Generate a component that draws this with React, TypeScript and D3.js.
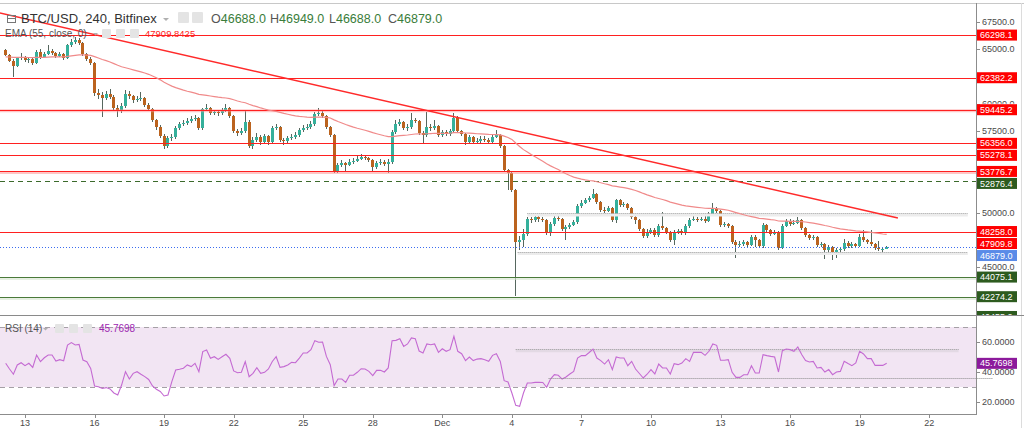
import React from 'react';
import * as d3 from 'd3';

// ---------- DATA ----------
const firstOpen = 64930;
const closes = [
  64470, 63920, 63460, 64190, 64290, 64010, 64100, 63740, 64750, 64290,
  64560, 64840, 64650, 64380, 64560, 64190, 65390, 65660, 65850, 65570,
  64560, 64100, 63740, 60980, 60800, 60520, 60890, 60610, 59600, 59420,
  59790, 60890, 60700, 60340, 60430, 60520, 59880, 59510, 58500, 57860,
  57030, 56110, 56850, 56940, 57770, 58130, 58220, 58410, 58590, 58680,
  57770, 59510, 59600, 59140, 59230, 59140, 59420, 59600, 58870, 57490,
  57310, 57490, 58320, 56110, 56660, 56940, 56480, 57030, 56480, 57770,
  57860, 56660, 56570, 56850, 56940, 57120, 57580, 57770, 57860, 58130,
  59050, 59140, 58870, 57860, 57120, 53820, 54370, 54550, 54370, 54640,
  54730, 54920, 55100, 55010, 54830, 54180, 54550, 54640, 54460, 54640,
  57400, 58130, 58320, 57770, 57860, 58500, 58410, 57310, 57120, 57860,
  57770, 57950, 57120, 57400, 57210, 57490, 58680, 57490, 57210, 56480,
  56940, 56480, 56570, 56760, 56660, 56480, 56940, 57120, 56110, 53910,
  53630, 52070, 47300, 47480, 48030, 49410, 49320, 49590, 49410, 49320,
  48120, 48950, 49500, 49410, 48490, 48670, 48860, 49130, 50600, 50880,
  51150, 51340, 51700, 50970, 50230, 50140, 50420, 49320, 51150, 50690,
  50790, 50420, 49590, 49320, 48490, 47850, 48220, 48400, 47940, 48770,
  48580, 48220, 47480, 48220, 48310, 48120, 48770, 49320, 49410, 49320,
  49410, 49230, 49870, 50330, 50140, 48860, 48950, 48770, 47300, 47020,
  47110, 47300, 47020, 47760, 47480, 46930, 48860, 48400, 48030, 48220,
  46750, 48770, 49230, 48950, 49040, 49320, 48580, 47940, 47660, 47760,
  47020, 47110, 46560, 46840, 46290, 46560, 46650, 47210, 46930, 47110,
  46930, 47760, 47480, 47300, 47110, 46750, 46650, 46688, 46879,
];
const highs = [
  65050, 64560, 64100, 64300, 64660, 64400, 64290, 64190, 64930, 65020,
  64740, 65390, 65020, 64750, 64750, 64650, 65480, 65940, 66120, 66030,
  65660, 64650, 64290, 63830, 61350, 61070, 61160, 61350, 60800, 59880,
  60060, 61250, 61160, 60800, 60700, 61070, 60610, 60060, 59600, 58590,
  58040, 57210, 57030, 57210, 57950, 58320, 58500, 58680, 58870, 58960,
  58780, 59600, 59970, 59690, 59420, 59420, 59600, 59970, 59690, 58960,
  57670, 57770, 59420, 58500, 56940, 57310, 57120, 57210, 57120, 57950,
  58130, 57950, 56850, 57030, 57210, 57400, 57770, 58040, 58130, 58410,
  59230, 59600, 59320, 58960, 57950, 57210, 54550, 54830, 54640, 54920,
  55010, 55190, 55380, 55280, 55100, 54920, 54730, 54920, 54830, 54920,
  57580, 58500, 58590, 58410, 58130, 59140, 58680, 58500, 57490, 59230,
  58130, 58500, 58040, 57580, 57580, 57670, 59140, 58870, 57580, 57310,
  57120, 57030, 56850, 57030, 57030, 56850, 57120, 57580, 57210, 56200,
  54000, 53730, 52160, 47850, 48490, 49590, 49590, 49780, 49870, 49590,
  49410, 49130, 49680, 49680, 49500, 48860, 49040, 49320, 50780, 51150,
  51340, 51520, 52160, 51800, 51060, 50510, 50600, 50510, 51240, 51240,
  50970, 50880, 50510, 49780, 49410, 48580, 48490, 48580, 48580, 48950,
  50050, 48680, 48310, 48400, 48490, 48490, 48950, 49500, 49680, 49590,
  49590, 49680, 50050, 50880, 50510, 50230, 49130, 49040, 48860, 47480,
  47390, 47480, 47390, 47940, 47940, 47580, 49040, 48950, 48490, 48400,
  48310, 48950, 49410, 49410, 49320, 49590, 49410, 48680, 48030, 47940,
  47850, 47300, 47210, 47020, 46930, 46750, 46840, 47570, 47390, 47300,
  47210, 48030, 48400, 47580, 48400, 47210, 47390, 46840, 46949,
];
const lows = [
  64380, 63830, 62450, 63370, 64010, 63830, 63740, 63550, 63650, 64100,
  64190, 64470, 64470, 64190, 64290, 64010, 64100, 65200, 65480, 65390,
  64380, 63920, 63550, 60700, 60430, 58780, 60340, 60430, 59420, 58780,
  59140, 59600, 60430, 60060, 60150, 60240, 59690, 59330, 58320, 57580,
  56850, 55840, 55930, 56570, 56760, 57580, 57950, 58040, 58220, 58410,
  57580, 57580, 59330, 58960, 58960, 58870, 58960, 59230, 58680, 57310,
  57030, 57120, 57310, 55930, 55840, 56480, 56200, 56300, 56200, 56390,
  57580, 56480, 56200, 56390, 56660, 56760, 56940, 57400, 57580, 57670,
  57950, 58870, 58680, 57670, 56940, 53630, 53630, 54180, 53720, 54270,
  54460, 54640, 54830, 54830, 54640, 53820, 54000, 54370, 54270, 53630,
  54460, 57210, 57950, 57580, 57490, 57680, 58220, 57120, 56390, 56940,
  57490, 57580, 56940, 56940, 57030, 57030, 57310, 57310, 57030, 56200,
  56300, 56300, 56300, 56390, 56480, 56300, 56390, 56850, 55930, 53720,
  52070, 51890, 42300, 46560, 46840, 47850, 49040, 49130, 49130, 49130,
  47940, 47850, 48770, 49230, 48310, 47480, 48490, 48770, 48950, 50420,
  50780, 50970, 51250, 50780, 50050, 49960, 50050, 49130, 49040, 50510,
  50510, 50230, 49410, 48950, 48310, 47660, 47660, 48030, 47760, 47760,
  48400, 48030, 47300, 47020, 48030, 47940, 47940, 48580, 49230, 49130,
  49230, 49040, 49130, 49680, 49960, 48680, 48680, 48580, 47110, 45830,
  46840, 46930, 46840, 46930, 46840, 46750, 46750, 48220, 47850, 47940,
  46560, 46650, 48680, 48770, 48860, 48950, 48400, 47760, 47480, 47480,
  46840, 46840, 45730, 46380, 45640, 45830, 46380, 46470, 46750, 46750,
  46750, 46840, 47300, 47110, 46930, 46560, 46470, 46380, 46688,
];
const rsiValues = [
  45.8, 42, 38.5, 44.7, 46.2, 44.2, 45.8, 43.1, 51.3, 46.9,
  49.5, 51.3, 51.3, 47.3, 48.2, 47.5, 58, 59.6, 58, 58.4,
  48, 46.9, 42.4, 30.7, 30.2, 29, 29.6, 28.7, 26, 24.7,
  31.3, 40.2, 35.3, 39.1, 40.2, 38.5, 36.9, 35, 30.7, 28.5,
  27, 24, 24.7, 33.6, 41.3, 41.8, 42.5, 44.7, 43.6, 45.8,
  40.2, 53.6, 54.7, 49.1, 50.2, 48.4, 50.2, 51.8, 49.1, 40.7,
  39.5, 39.8, 46.9, 36.9, 39.1, 42.9, 39.1, 39.8, 42, 47,
  50.2, 43.1, 43.6, 44.7, 46.4, 46.2, 49.3, 52.7, 52.7, 54.9,
  60.9, 59.8, 60, 50.4, 44.9, 30.9, 35.3, 35.3, 33.1, 37.8,
  37.8, 39.8, 42.2, 42, 40.4, 37.6, 41.1, 41.1, 40, 42.7,
  60.9, 61.1, 62.2, 57.1, 58.7, 62.7, 62.2, 54, 52.7, 58.7,
  58.2, 58.7, 53.1, 55.5, 53.8, 54.9, 63.8, 53.8, 52.2, 47.6,
  50, 47.6, 48.6, 48.9, 48.2, 47.1, 51.1, 52.2, 47, 34.2,
  33.3, 26, 17.8, 17.1, 26, 32.7, 32.7, 33.1, 33.1, 33,
  29.8, 35.3, 38.2, 37.8, 35.3, 36.7, 38.7, 40.4, 49.3, 50.9,
  50.9, 53, 55.3, 49.3, 47.6, 45.3, 48.2, 41.6, 50, 49.3,
  49.3, 44.2, 47.1, 42, 39, 36, 38.5, 41.6, 38.7, 45.3,
  42.7, 42.7, 38.7, 45.6, 44.9, 46, 48.9, 47.1, 53.1, 53.1,
  53.1, 51.1, 53.8, 58.7, 57.8, 47.8, 47.8, 48.2, 39.8, 36.4,
  36.4, 38.2, 38.2, 44.2, 39.3, 39.3, 51.6, 50.9, 50.4, 50,
  40, 54.2, 55.3, 54.9, 53.8, 56.7, 51.6, 47.6, 46.7, 47.1,
  42.7, 43.1, 40, 41.6, 38.2, 40, 40.4, 47.1, 45.6, 44.2,
  46, 53.8, 52, 48.9, 48.9, 44.4, 44.4, 44.4, 45.7698,
];
const emaSeed = 64300;
const emaLength = 55;

const tickLabels = ['13', '16', '19', '22', '25', '28', 'Dec', '4', '7', '10', '13', '16', '19', '22'];
const tickIndex = [5, 23, 41, 59, 77, 95, 113, 131, 149, 167, 185, 203, 221, 239];
const priceTicks = [45000, 47500, 50000, 52500, 55000, 57500, 60000, 62500, 65000, 67500];
const rsiTicks = [20, 40, 60];

const redLevels = [66298.1, 62382.2, 59445.2, 56356.0, 55278.1, 53776.7, 48258.0];
const glowLevels = [59445.2, 53776.7];
const greenLevels = [44075.1, 42274.2, 40455.2];
const dashedGreenLevel = 52876.4;
const emaLast = 47909.8425;
const lastPrice = 46879.0;
const rsiLast = 45.7698;

const trendIdx = [-1.5, 230.9];
const trendPrice = [68330, 49500];
const channelUpperIdx = [135, 249];
const channelLowerIdx = [132.5, 249];
const channelPrices = [49950, 46420];
const rsiUpperIdx = [132, 246.6];
const rsiLowerIdx = [140.5, 255.5];
const rsiChannel = [55.5, 35.8];

const headerTitle = 'BTC/USD, 240, Bitfinex';
const ohlcKeys = ['O', 'H', 'L', 'C'];
const ohlcVals = ['46688.0', '46949.0', '46688.0', '46879.0'];

// ---------- STYLE ----------
const FONT = "'Liberation Sans', Arial, Helvetica, sans-serif";
const RED = '#ff0000';
const GREEN_BG = '#2d5b1f';
const GREEN_LINE = '#4a7a3a';
const UP = '#35b09b';
const DOWN = '#bb631e';
const WICK = '#56675e';
const AXIS = '#8c8c8c';
const TXT = '#4a4a4a';

export default function App() {
  const x = d3.scaleLinear().domain([5, 239]).range([25, 929.2]);
  const y = d3.scaleLinear().domain([45000, 67500]).range([267, 22]);
  const yr = d3.scaleLinear().domain([20, 60]).range([402, 342]);

  const opens = closes.map((c, i) => (i === 0 ? firstOpen : closes[i - 1]));
  const k = 2 / (emaLength + 1);
  const ema: number[] = [];
  closes.forEach((c, i) => ema.push(i === 0 ? emaSeed : c * k + ema[i - 1] * (1 - k)));

  const emaPath = d3.line<number>().x((_, i) => x(i)).y((d) => y(d))(ema) || '';
  const rsiPath = d3.line<number>().x((_, i) => x(i)).y((d) => yr(d))(rsiValues) || '';

  const AX = 976;

  // axis labels with simple collision avoidance
  type Lab = { v: number; text: string; bg: string };
  const labs: Lab[] = [
    ...redLevels.map((v) => ({ v, text: v.toFixed(1), bg: RED })),
    ...greenLevels.map((v) => ({ v, text: v.toFixed(1), bg: GREEN_BG })),
    { v: dashedGreenLevel, text: dashedGreenLevel.toFixed(1), bg: GREEN_BG },
    { v: emaLast, text: emaLast.toFixed(1), bg: RED },
    { v: lastPrice, text: lastPrice.toFixed(1), bg: '#5a8be8' },
  ];
  const placed = labs
    .map((l) => ({ ...l, yy: y(l.v) }))
    .sort((a, b) => a.yy - b.yy);
  for (let i = 1; i < placed.length; i++) {
    if (placed[i].yy < placed[i - 1].yy + 12) placed[i].yy = placed[i - 1].yy + 12;
  }
  // tick labels hidden behind a line label (as on the reference) are not drawn;
  // partly covered ones are clipped to the free space
  const visibleTicks = priceTicks
    .map((p) => {
      const ty = y(p);
      const near = placed.reduce((m, l) => (Math.abs(l.yy - ty) < Math.abs(m - ty) ? l.yy : m), -999);
      return { p, ty, near };
    })
    .filter((t) => Math.abs(t.near - t.ty) >= 6);

  const iconBox = (bx: number, by: number, s: number, key: string) => (
    <rect key={key} x={bx} y={by} width={s} height={s} rx={1} fill="#e4e4e4" />
  );

  return (
    <svg
      width={1024}
      height={428}
      style={{ position: 'absolute', left: 0, top: 0, background: '#fff' }}
      fontFamily={FONT}
    >
      <defs>
        <clipPath id="mainClip">
          <rect x={0} y={3} width={AX} height={312} />
        </clipPath>
        <clipPath id="rsiClip">
          <rect x={0} y={316} width={AX} height={98} />
        </clipPath>
        <clipPath id="axisMainClip">
          <rect x={AX} y={3} width={48} height={312} />
        </clipPath>
        {visibleTicks.map((t) => {
          const above = t.near < t.ty ? t.near + 6 : 3;
          const below = t.near > t.ty ? t.near - 6 : 315;
          return (
            <clipPath key={'tc' + t.p} id={'tc' + t.p}>
              <rect x={AX} y={above} width={48} height={Math.max(0, below - above)} />
            </clipPath>
          );
        })}
      </defs>
      <rect x={0} y={0} width={1024} height={428} fill="#fff" />

      {/* ---------- MAIN PANE ---------- */}
      <g clipPath="url(#mainClip)">
        {/* candles */}
        {closes.map((c, i) => {
          const o = opens[i];
          const cx = x(i);
          const x0 = Math.round(cx - 1.5);
          const top = y(Math.max(o, c));
          const bot = y(Math.min(o, c));
          const up = c >= o;
          return (
            <g key={'c' + i} shapeRendering="crispEdges">
              <line x1={x0 + 1.5} x2={x0 + 1.5} y1={y(highs[i])} y2={y(lows[i])} stroke={WICK} strokeWidth={1} />
              <rect x={x0} y={top} width={3} height={Math.max(1, bot - top)} fill={up ? UP : DOWN} />
            </g>
          );
        })}

        {/* red horizontal levels */}
        {glowLevels.map((v) => (
          <line key={'g' + v} x1={0} x2={AX} y1={y(v) + 1} y2={y(v) + 1} stroke="#ff9090" strokeWidth={3} opacity={0.5} />
        ))}
        {redLevels.map((v) => (
          <line key={'r' + v} x1={0} x2={AX} y1={Math.round(y(v)) + 0.5} y2={Math.round(y(v)) + 0.5} stroke="#ff2020" strokeWidth={1} />
        ))}
        {/* green levels */}
        {greenLevels.map((v) => (
          <g key={'gl' + v}>
            <line x1={0} x2={AX} y1={Math.round(y(v)) + 2} y2={Math.round(y(v)) + 2} stroke="#d6e5cf" strokeWidth={2} opacity={0.6} />
            <line x1={0} x2={AX} y1={Math.round(y(v)) + 0.5} y2={Math.round(y(v)) + 0.5} stroke={GREEN_LINE} strokeWidth={1} />
          </g>
        ))}
        <line
          x1={0}
          x2={AX}
          y1={Math.round(y(dashedGreenLevel)) + 0.5}
          y2={Math.round(y(dashedGreenLevel)) + 0.5}
          stroke="#3c6a2c"
          strokeWidth={1}
          strokeDasharray="5,4"
        />
        {/* last price dotted */}
        <line
          x1={0}
          x2={AX}
          y1={Math.round(y(lastPrice)) + 0.5}
          y2={Math.round(y(lastPrice)) + 0.5}
          stroke="#3b6cf0"
          strokeWidth={1}
          strokeDasharray="1,2"
        />
        {/* gray channel lines */}
        {[channelUpperIdx, channelLowerIdx].map((idx, j) => (
          <g key={'ch' + j}>
            <line x1={x(idx[0])} x2={x(idx[1])} y1={y(channelPrices[j]) + 2} y2={y(channelPrices[j]) + 2} stroke="#ececec" strokeWidth={3} />
            <line x1={x(idx[0])} x2={x(idx[1])} y1={Math.round(y(channelPrices[j])) + 0.5} y2={Math.round(y(channelPrices[j])) + 0.5} stroke="#a0a0a0" strokeWidth={1} strokeDasharray="1,1" />
          </g>
        ))}
        {/* EMA */}
        <path d={emaPath} fill="none" stroke="#f08a8a" strokeWidth={1.2} />
        {/* trendline */}
        <line x1={x(trendIdx[0])} x2={x(trendIdx[1])} y1={y(trendPrice[0])} y2={y(trendPrice[1])} stroke="#ff2a2a" strokeWidth={1.4} />
      </g>

      {/* ---------- RSI PANE ---------- */}
      <g clipPath="url(#rsiClip)">
        <rect x={0} y={yr(70)} width={AX} height={yr(30) - yr(70)} fill="#f2e5f3" />
        <line x1={0} x2={AX} y1={Math.round(yr(70)) + 0.5} y2={Math.round(yr(70)) + 0.5} stroke="#a5a0a6" strokeDasharray="5,4" />
        <line x1={0} x2={AX} y1={Math.round(yr(30)) + 0.5} y2={Math.round(yr(30)) + 0.5} stroke="#a5a0a6" strokeDasharray="5,4" />
        <line x1={x(rsiUpperIdx[0])} x2={x(rsiUpperIdx[1])} y1={yr(rsiChannel[0]) + 2} y2={yr(rsiChannel[0]) + 2} stroke="#e3d9e4" strokeWidth={3} />
        <line x1={x(rsiUpperIdx[0])} x2={x(rsiUpperIdx[1])} y1={Math.round(yr(rsiChannel[0])) + 0.5} y2={Math.round(yr(rsiChannel[0])) + 0.5} stroke="#9a9a9a" strokeDasharray="1,1" />
        <path d={rsiPath} fill="none" stroke="#c46ad2" strokeWidth={1.1} />
      </g>
      <line x1={x(rsiLowerIdx[0])} x2={x(rsiLowerIdx[1])} y1={Math.round(yr(rsiChannel[1])) + 0.5} y2={Math.round(yr(rsiChannel[1])) + 0.5} stroke="#8a8a8a" strokeDasharray="1,1" />

      {/* ---------- FRAME / AXES ---------- */}
      <line x1={0} x2={1024} y1={3.5} y2={3.5} stroke="#c8c8c8" />
      <line x1={1021.5} x2={1021.5} y1={3} y2={428} stroke="#dcdcdc" />
      <line x1={0} x2={1024} y1={315.5} y2={315.5} stroke="#8a8a8a" />
      <line x1={AX + 0.5} x2={AX + 0.5} y1={3} y2={414} stroke={AXIS} />
      <line x1={0} x2={AX + 1} y1={414.5} y2={414.5} stroke={AXIS} />

      {/* x ticks */}
      {tickIndex.map((ti, j) => (
        <g key={'xt' + j}>
          <line x1={Math.round(x(ti)) + 0.5} x2={Math.round(x(ti)) + 0.5} y1={414} y2={418} stroke={AXIS} />
          <text x={x(ti)} y={426} fontSize={9} fill={TXT} textAnchor="middle">
            {tickLabels[j]}
          </text>
        </g>
      ))}

      {/* price ticks */}
      <g clipPath="url(#axisMainClip)">
        {priceTicks.map((p) => (
          <line key={'ptl' + p} x1={AX} x2={AX + 4} y1={Math.round(y(p)) + 0.5} y2={Math.round(y(p)) + 0.5} stroke={AXIS} />
        ))}
        {visibleTicks.map((t) => (
          <text key={'pt' + t.p} x={AX + 6} y={t.ty} dy="0.35em" fontSize={9} fill={TXT} clipPath={`url(#tc${t.p})`}>
            {t.p.toFixed(1)}
          </text>
        ))}
        {placed.map((l) => (
          <g key={'lab' + l.text}>
            <rect x={AX + 1} y={l.yy - 5.5} width={40} height={11} fill={l.bg} />
            <text x={AX + 4} y={l.yy} dy="0.35em" fontSize={9} fill="#fff">
              {l.text}
            </text>
          </g>
        ))}
      </g>

      {/* rsi ticks */}
      {rsiTicks.map((v) => (
        <g key={'rt' + v}>
          <line x1={AX} x2={AX + 4} y1={Math.round(yr(v)) + 0.5} y2={Math.round(yr(v)) + 0.5} stroke={AXIS} />
          <text x={AX + 6} y={yr(v)} dy="0.35em" fontSize={9} fill={TXT}>
            {v.toFixed(4)}
          </text>
        </g>
      ))}
      <rect x={AX + 1} y={yr(rsiLast) - 5.5} width={40} height={11} fill="#8c1a9c" />
      <text x={AX + 4} y={yr(rsiLast)} dy="0.35em" fontSize={9} fill="#fff">
        {rsiLast.toFixed(4)}
      </text>

      {/* ---------- HEADER ---------- */}
      <rect x={7.5} y={15.5} width={8} height={7} fill="none" stroke="#777" />
      <line x1={7.5} x2={15.5} y1={18.5} y2={18.5} stroke="#777" />
      <text x={21} y={23} fontSize={13} fill="#333">
        {headerTitle}
      </text>
      <path d="M163,18 L169,18 L166,21 Z" fill="#b0b0b0" />
      {iconBox(178, 12, 11, 'h1')}
      {iconBox(192, 12, 11, 'h2')}
      {ohlcKeys.map((kk, j) => (
        <text key={'ohlc' + j} x={211 + j * 59} y={23} fontSize={12.5}>
          <tspan fill="#555">{kk}</tspan>
          <tspan fill="#3a7d3a">{ohlcVals[j]}</tspan>
        </text>
      ))}

      <text x={5} y={37} fontSize={10} fill="#555">
        EMA (55, close, 0)
      </text>
      <path d="M93,33 L98,33 L95.5,35.5 Z" fill="#b0b0b0" />
      {iconBox(102, 29, 9, 'e1')}
      {iconBox(116, 29, 9, 'e2')}
      {iconBox(130, 29, 9, 'e3')}
      <text x={145} y={37} fontSize={9.5} fill="#ff1a1a">
        {emaLast.toFixed(4)}
      </text>

      <text x={5} y={332} fontSize={10} fill="#555">
        RSI (14)
      </text>
      <path d="M43,328 L48,328 L45.5,330.5 Z" fill="#b0b0b0" />
      {iconBox(55, 324, 9, 'r1')}
      {iconBox(69, 324, 9, 'r2')}
      {iconBox(83, 324, 9, 'r3')}
      <text x={99} y={332} fontSize={10} fill="#9c27b0">
        {rsiLast.toFixed(4)}
      </text>
    </svg>
  );
}
